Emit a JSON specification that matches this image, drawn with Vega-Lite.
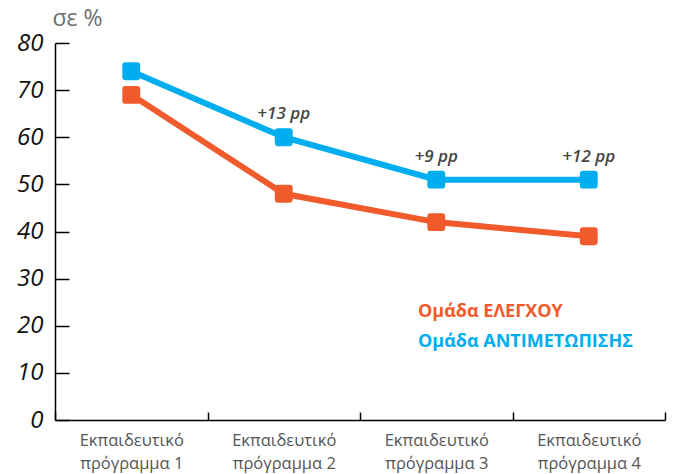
{
  "$schema": "https://vega.github.io/schema/vega-lite/v6.json",
  "width": 610,
  "height": 377,
  "autosize": "none",
  "padding": {"left": 55, "top": 43, "right": 8, "bottom": 54},
  "config": {"view": {"stroke": null}, "font": "Open Sans"},
  "datasets": {
    "series": [
      {"program": "Εκπαιδευτικό πρόγραμμα 1", "group": "Ομάδα ΕΛΕΓΧΟΥ", "value": 69},
      {"program": "Εκπαιδευτικό πρόγραμμα 2", "group": "Ομάδα ΕΛΕΓΧΟΥ", "value": 48},
      {"program": "Εκπαιδευτικό πρόγραμμα 3", "group": "Ομάδα ΕΛΕΓΧΟΥ", "value": 42},
      {"program": "Εκπαιδευτικό πρόγραμμα 4", "group": "Ομάδα ΕΛΕΓΧΟΥ", "value": 39},
      {"program": "Εκπαιδευτικό πρόγραμμα 1", "group": "Ομάδα ΑΝΤΙΜΕΤΩΠΙΣΗΣ", "value": 74},
      {"program": "Εκπαιδευτικό πρόγραμμα 2", "group": "Ομάδα ΑΝΤΙΜΕΤΩΠΙΣΗΣ", "value": 60},
      {"program": "Εκπαιδευτικό πρόγραμμα 3", "group": "Ομάδα ΑΝΤΙΜΕΤΩΠΙΣΗΣ", "value": 51},
      {"program": "Εκπαιδευτικό πρόγραμμα 4", "group": "Ομάδα ΑΝΤΙΜΕΤΩΠΙΣΗΣ", "value": 51}
    ],
    "notes": [
      {"program": "Εκπαιδευτικό πρόγραμμα 2", "value": 60, "label": "+13 pp"},
      {"program": "Εκπαιδευτικό πρόγραμμα 3", "value": 51, "label": "+9 pp"},
      {"program": "Εκπαιδευτικό πρόγραμμα 4", "value": 51, "label": "+12 pp"}
    ]
  },
  "encoding": {
    "x": {
      "field": "program",
      "type": "nominal",
      "sort": null,
      "scale": {"paddingInner": 0, "paddingOuter": 0},
      "axis": {
        "title": null,
        "labelAngle": 0,
        "labelExpr": "[slice(datum.label, 0, 12), slice(datum.label, 13)]",
        "labelFont": "Open Sans",
        "labelFontSize": 16.5,
        "labelColor": "#555555",
        "labelLineHeight": 23,
        "labelPadding": 20,
        "tickBand": "extent",
        "tickSize": -8,
        "tickColor": "#000000",
        "tickWidth": 1.5,
        "domainColor": "#000000",
        "domainWidth": 1.5
      }
    },
    "y": {
      "field": "value",
      "type": "quantitative",
      "scale": {"domain": [0, 80], "nice": false},
      "axis": {
        "title": "σε %",
        "titleAngle": 0,
        "titleAlign": "left",
        "titleBaseline": "alphabetic",
        "titleX": -3,
        "titleY": -18,
        "titleFont": "Open Sans",
        "titleFontSize": 23,
        "titleFontWeight": "normal",
        "titleColor": "#6d6d6d",
        "values": [0, 10, 20, 30, 40, 50, 60, 70, 80],
        "grid": false,
        "labelFont": "Open Sans",
        "labelFontSize": 24,
        "labelFontStyle": "italic",
        "labelColor": "#111111",
        "labelPadding": 26,
        "tickSize": -14,
        "tickColor": "#000000",
        "tickWidth": 1.5,
        "domainColor": "#000000",
        "domainWidth": 1.5
      }
    }
  },
  "layer": [
    {
      "data": {"name": "series"},
      "mark": {"type": "line", "strokeWidth": 6},
      "encoding": {
        "color": {
          "field": "group",
          "type": "nominal",
          "scale": {"domain": ["Ομάδα ΕΛΕΓΧΟΥ", "Ομάδα ΑΝΤΙΜΕΤΩΠΙΣΗΣ"], "range": ["#F15A2B", "#00AEEF"]},
          "legend": {
            "title": null,
            "orient": "none",
            "legendX": 345,
            "legendY": 260,
            "symbolOpacity": 0,
            "symbolSize": 0,
            "symbolStrokeWidth": 0,
            "labelOffset": 0,
            "labelFont": "Open Sans",
            "labelFontSize": 18,
            "labelFontWeight": "bold",
            "rowPadding": 12,
            "labelLimit": 400,
            "encode": {
              "labels": {"update": {"fill": {"signal": "scale('color', datum.value)"}}}
            }
          }
        }
      }
    },
    {
      "data": {"name": "series"},
      "mark": {
        "type": "point",
        "shape": "M -0.65 -1 L 0.65 -1 Q 1 -1 1 -0.65 L 1 0.65 Q 1 1 0.65 1 L -0.65 1 Q -1 1 -1 0.65 L -1 -0.65 Q -1 -1 -0.65 -1 Z",
        "filled": true,
        "size": 320,
        "opacity": 1
      },
      "encoding": {
        "color": {"field": "group", "type": "nominal", "legend": null}
      }
    },
    {
      "data": {"name": "notes"},
      "mark": {"type": "text", "dy": -23, "font": "Open Sans", "fontStyle": "italic", "fontWeight": 600, "fontSize": 17, "color": "#444444"},
      "encoding": {
        "text": {"field": "label", "type": "nominal"}
      }
    }
  ]
}
